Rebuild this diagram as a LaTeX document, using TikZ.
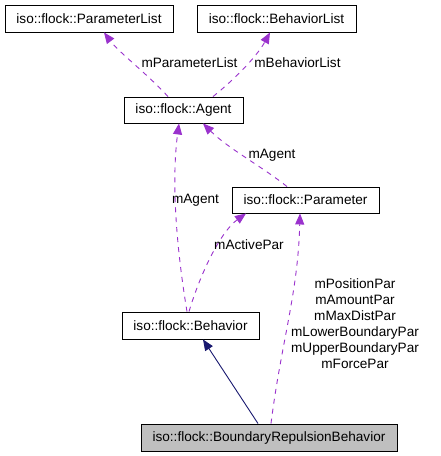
\documentclass[tikz,border=0pt]{standalone}
\usepackage{fontspec}
\setmainfont{Liberation Sans}
\usetikzlibrary{arrows.meta}
\definecolor{edgepurple}{HTML}{9A32CD}
\definecolor{edgenavy}{HTML}{191970}
\definecolor{boxgray}{HTML}{BFBFBF}
\begin{document}
\begin{tikzpicture}[x=1pt,y=-1pt,
  cls/.style={draw=black,line width=0.9pt,inner sep=0pt,font=\fontsize{13.6}{16}\selectfont},
  usage/.style={draw=edgepurple,line width=0.9pt,dash pattern=on 5pt off 5pt,-{Triangle[length=11pt,width=9pt,fill=edgepurple]}},
  inherit/.style={draw=edgenavy,line width=0.9pt,-{Triangle[length=11pt,width=9pt,fill=edgenavy]}},
  lbl/.style={font=\fontsize{13.6}{16}\selectfont,inner sep=0pt,align=center}]
\useasboundingbox (0,0) rectangle (440,456);
\fill[white] (0,0) rectangle (440,456);
\node[cls,minimum width=168pt,minimum height=27pt] (PL) at (89,18.5) {iso::flock::ParameterList};
\node[cls,minimum width=159pt,minimum height=27pt] (BL) at (276.5,18.5) {iso::flock::BehaviorList};
\node[cls,minimum width=119pt,minimum height=26pt] (AG) at (183.5,110) {iso::flock::Agent};
\node[cls,minimum width=147pt,minimum height=26pt] (PA) at (305.5,200) {iso::flock::Parameter};
\node[cls,minimum width=137pt,minimum height=27pt] (BE) at (190.5,325.5) {iso::flock::Behavior};
\node[cls,fill=boxgray,minimum width=256pt,minimum height=27pt] (BR) at (269,437.5) {iso::flock::BoundaryRepulsionBehavior};

\draw[usage] ([xshift=-15.5pt]AG.north) .. controls +(-20,-22) and +(15,20) .. ([xshift=15pt]PL.south);
\draw[usage] ([xshift=29.5pt]AG.north) .. controls +(25,-20) and +(-12,22) .. ([xshift=-6.5pt]BL.south);
\draw[usage] ([xshift=-18.5pt]PA.north) .. controls +(-25,-20) and +(25,25) .. ([xshift=19.5pt]AG.south);
\draw[usage] ([xshift=-3.5pt]BE.north) .. controls +(-10,-60) and +(-8,60) .. ([xshift=-4.5pt]AG.south);
\draw[usage] ([xshift=-1.5pt]BE.north) .. controls +(12,-40) and +(-25,18) .. ([xshift=-59.5pt]PA.south);
\draw[usage] ([xshift=2pt]BR.north) .. controls +(10,-80) and +(-2,80) .. ([xshift=-5.5pt]PA.south);
\draw[inherit] ([xshift=-11pt]BR.north) -- ([xshift=12.5pt]BE.south);

\node[lbl] (l1) at (189.5,63) {mParameterList};
\node[lbl] (l2) at (297.5,63) {mBehaviorList};
\node[lbl] (l3) at (272,155) {mAgent};
\node[lbl] (l4) at (195.5,200) {mAgent};
\node[lbl] (l5) at (249,245) {mActivePar};
\node[lbl] (l6) at (355,324) {mPositionPar\\mAmountPar\\mMaxDistPar\\mLowerBoundaryPar\\mUpperBoundaryPar\\mForcePar};
\end{tikzpicture}
\end{document}
